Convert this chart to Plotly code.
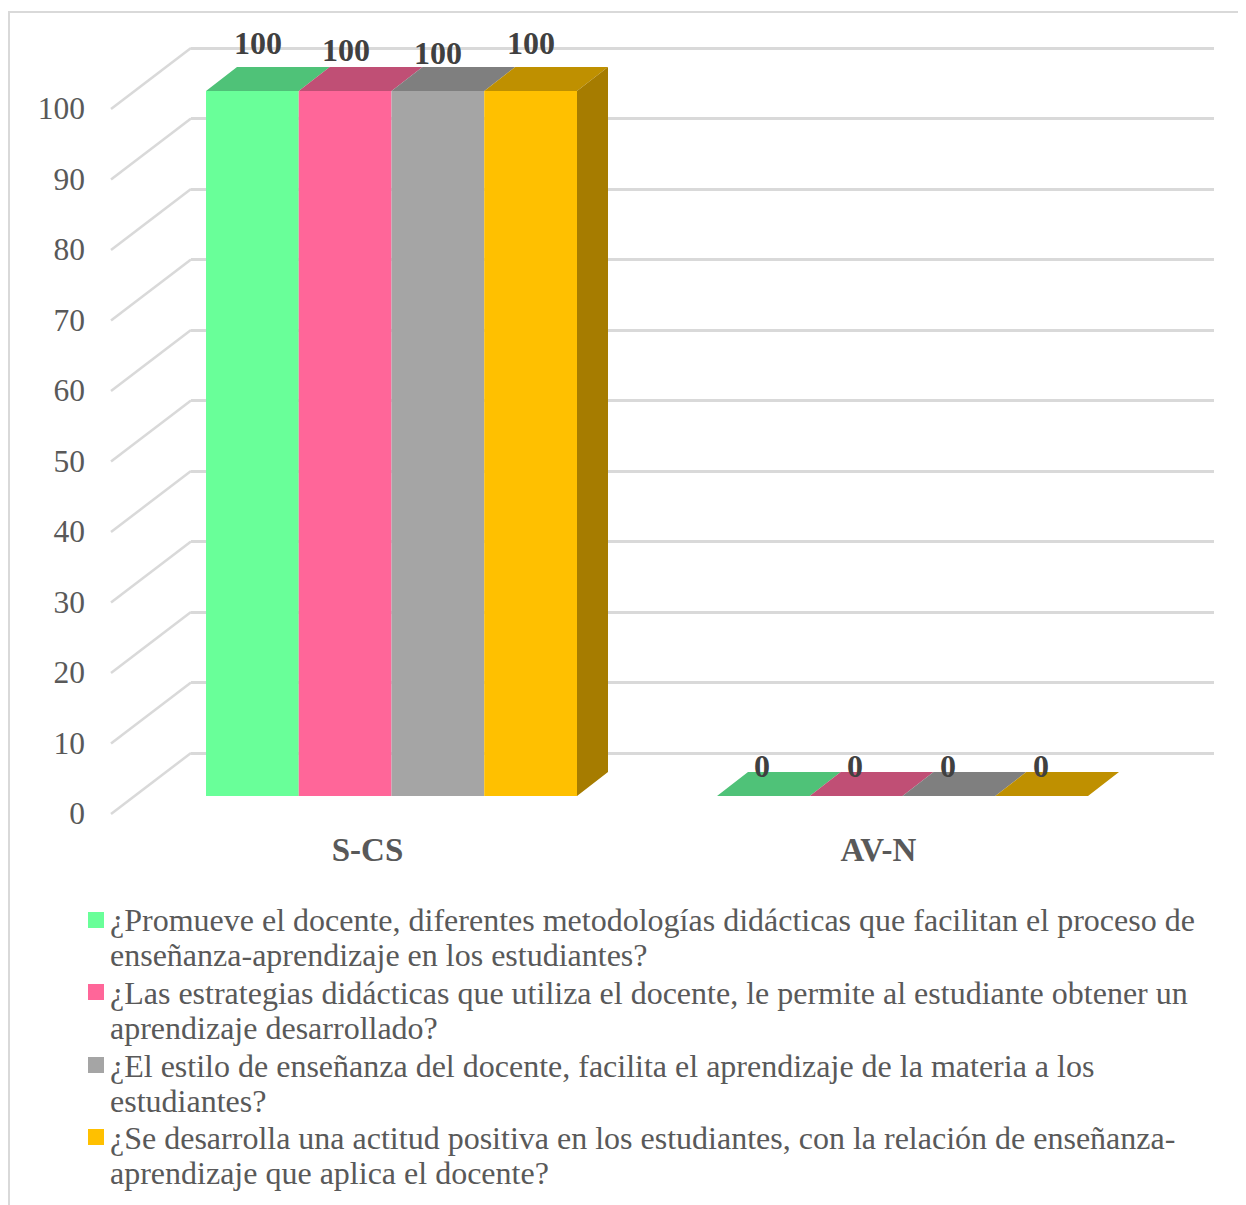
import plotly.graph_objects as go

# ---- data ----
categories = ["S-CS", "AV-N"]
series_lines = [
    ["¿Promueve el docente, diferentes metodologías didácticas que facilitan el proceso de",
     "enseñanza-aprendizaje en los estudiantes?"],
    ["¿Las estrategias didácticas que utiliza el docente, le permite al estudiante obtener un",
     "aprendizaje desarrollado?"],
    ["¿El estilo de enseñanza del docente, facilita el aprendizaje de la materia a los",
     "estudiantes?"],
    ["¿Se desarrolla una actitud positiva en los estudiantes, con la relación de enseñanza-",
     "aprendizaje que aplica el docente?"],
]
s1_values = [100, 0]
s2_values = [100, 0]
s3_values = [100, 0]
s4_values = [100, 0]
y_ticks = [0, 10, 20, 30, 40, 50, 60, 70, 80, 90, 100]

# ---- style ----
front_colors = ["#69FF99", "#FF6699", "#A5A5A5", "#FFC000"]
top_colors = ["#4FC278", "#C04F75", "#7F7F7F", "#BF9000"]
side_color = "#A67C00"
grid = "#D9D9D9"
FONT = "Liberation Serif"

# the page adds an 8 px body margin, so everything is measured from (8, 8)
W, H = 1238, 1197
PX_CAT = 511.0          # px per category
PX_VAL = 7.05           # px per value unit
X0_PX = 383.5           # px of category 0 centre
Y0_PX = 788.0           # px of value 0 in the bar plane
DOM_L = 78.0            # left edge of bar subplot
BAR_PX = 92.75
DX = 31 / PX_CAT        # bar depth
DY = 24 / PX_VAL
BAR_W = BAR_PX / PX_CAT
WALL_DX = 80 / PX_CAT   # side wall depth
WALL_DY = 61 / PX_VAL
WALL_FRONT = (103 - X0_PX) / PX_CAT
FRONT_SHIFT = 18 / PX_VAL  # front wall 0 sits below bar plane
BACK_Y0 = 745.0

all_values = [s1_values, s2_values, s3_values, s4_values]
names = ["<br>".join(f'<span style="font-size:32px">{t}</span>' for t in lines) for lines in series_lines]
fig = go.Figure()

# back wall subplot (holds the horizontal grid, drawn first)
fig.add_trace(go.Scatter(x=[None], y=[None], xaxis="x", yaxis="y", showlegend=False, hoverinfo="skip"))

# front faces
for i, vals in enumerate(all_values):
    fig.add_trace(go.Bar(x=[0, 1], y=vals, name=series_lines[i][0], marker=dict(color=front_colors[i], line_width=0),
                         xaxis="x2", yaxis="y2", showlegend=False, hoverinfo="skip"))

# top faces
for i, vals in enumerate(all_values):
    xs, ys = [], []
    for c, v in enumerate(vals):
        l = c - 2 * BAR_W + i * BAR_W
        r = l + BAR_W
        xs += [l, l + DX, r + DX, r, l, None]
        ys += [v, v + DY, v + DY, v, v, None]
    fig.add_trace(go.Scatter(x=xs, y=ys, mode="lines", fill="toself", fillcolor=top_colors[i],
                             line=dict(width=0), xaxis="x2", yaxis="y2", showlegend=False, hoverinfo="skip"))

# side face of the last series
xs, ys = [], []
for c, v in enumerate(s4_values):
    r = c + 2 * BAR_W
    xs += [r, r + DX, r + DX, r, r, None]
    ys += [0, DY, v + DY, v, 0, None]
fig.add_trace(go.Scatter(x=xs, y=ys, mode="lines", fill="toself", fillcolor=side_color,
                         line=dict(width=0), xaxis="x2", yaxis="y2", showlegend=False, hoverinfo="skip"))

# side wall diagonals
xs, ys = [], []
for t in y_ticks:
    xs += [WALL_FRONT, WALL_FRONT + WALL_DX, None]
    ys += [t - FRONT_SHIFT, t - FRONT_SHIFT + WALL_DY, None]
fig.add_trace(go.Scatter(x=xs, y=ys, mode="lines", line=dict(color=grid, width=2.5), xaxis="x2", yaxis="y2",
                         showlegend=False, hoverinfo="skip"))

# legend entries; the small key sits inside the larger swatch rectangle below
for i in range(4):
    fig.add_trace(go.Scatter(x=[None], y=[None], mode="markers", name=names[i],
                             marker=dict(symbol="square", size=4, color=front_colors[i]),
                             xaxis="x2", yaxis="y2"))

# value labels
nudge_x = [[6, -1], [1, -1], [0, -1], [0, -1]]
nudge_y = [[48, 30], [41, 30], [38, 30], [48, 30]]
anns = []
for i, vals in enumerate(all_values):
    for c, v in enumerate(vals):
        anns.append(dict(x=c - 2 * BAR_W + (i + 0.5) * BAR_W, y=v, xref="x2", yref="y2", text=f"<b>{v}</b>",
                         showarrow=False, xshift=nudge_x[i][c], yshift=nudge_y[i][c],
                         font=dict(family=FONT, size=32, color="#404040")))

shapes = [dict(type="path", xref="paper", yref="paper",
               path=f"M {1 / W},0 L {1 / W},{1 - 4 / H} L 1,{1 - 4 / H}",
               line=dict(color=grid, width=2))]
swatch_left = 80
swatch_size = 16
swatch_mid = [912, 984, 1057, 1129]
for i, mid in enumerate(swatch_mid):
    shapes.append(dict(type="rect", xref="paper", yref="paper",
                       x0=swatch_left / W, x1=(swatch_left + swatch_size) / W,
                       y0=1 - (mid + swatch_size / 2) / H, y1=1 - (mid - swatch_size / 2) / H,
                       fillcolor=front_colors[i], line_width=0))

fig.update_layout(
    width=W, height=H, autosize=False,
    margin=dict(l=0, r=0, t=0, b=0, autoexpand=False),
    paper_bgcolor="white", plot_bgcolor="rgba(0,0,0,0)",
    barmode="group", bargap=1 - 4 * BAR_W, bargroupgap=0,
    shapes=shapes, annotations=anns,
    font=dict(family=FONT, color="#595959"),
    # back wall
    xaxis=dict(domain=[183 / W, 1206 / W], range=[0, 1], visible=False, fixedrange=True),
    yaxis=dict(domain=[0, 1], range=[(BACK_Y0 - H) / PX_VAL, BACK_Y0 / PX_VAL], anchor="x",
               tickvals=y_ticks, showgrid=True, gridcolor=grid, gridwidth=2.5, zeroline=False,
               showticklabels=False, showline=False, ticks="", fixedrange=True),
    # bar plane
    xaxis2=dict(domain=[DOM_L / W, 1], range=[(DOM_L - X0_PX) / PX_CAT, (W - X0_PX) / PX_CAT],
                anchor="free", position=(H - 819) / H, tickvals=[0, 1], ticktext=[f"<b>{c}</b>" for c in categories],
                ticklabelshift=-24, showgrid=False, zeroline=False, showline=False, ticks="",
                tickfont=dict(family=FONT, size=33, color="#595959"), fixedrange=True),
    yaxis2=dict(domain=[0, 1], range=[(Y0_PX - H) / PX_VAL, Y0_PX / PX_VAL], anchor="x2",
                tickvals=y_ticks, ticklabelshift=17, showgrid=False, zeroline=False, showline=False, ticks="",
                tickfont=dict(family=FONT, size=31.5, color="#595959"), fixedrange=True),
    legend=dict(x=62 / W, y=1 - 889 / H, xanchor="left", yanchor="top", tracegroupgap=0, valign="top",
                bgcolor="rgba(0,0,0,0)", font=dict(family=FONT, size=26.8, color="#595959")),
)
fig.write_html("out.html")
